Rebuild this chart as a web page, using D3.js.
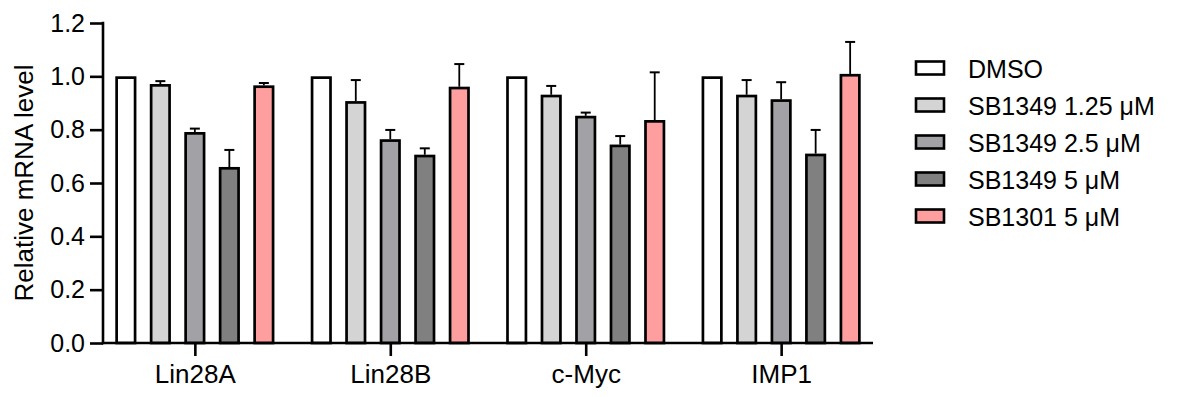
<!DOCTYPE html>
<html>
<head>
<meta charset="utf-8">
<script src="https://cdn.jsdelivr.net/npm/d3@7"></script>
<style>
  body { margin: 0; background: #fff; }
  svg { font-family: "Liberation Sans", Arial, sans-serif; }
</style>
</head>
<body>
<svg id="chart" width="1177" height="397"></svg>
<script>
// Data
var genes = ["Lin28A", "Lin28B", "c-Myc", "IMP1"];
var treatments = ["DMSO", "SB1349 1.25 \u03bcM", "SB1349 2.5 \u03bcM", "SB1349 5 \u03bcM", "SB1301 5 \u03bcM"];
var colors = ["#ffffff", "#d4d4d4", "#a2a2a6", "#808080", "#ff9e9e"];
// mean values, one array per treatment (in gene order)
var dmso   = [1.0, 1.0, 1.0, 1.0];
var sb125  = [0.971, 0.907, 0.931, 0.931];
var sb25   = [0.791, 0.764, 0.852, 0.914];
var sb5    = [0.660, 0.706, 0.744, 0.710];
var sb1301 = [0.966, 0.961, 0.836, 1.009];
// upper error (SD)
var dmsoErr   = [0, 0, 0, 0];
var sb125Err  = [0.011, 0.079, 0.033, 0.055];
var sb25Err   = [0.013, 0.035, 0.012, 0.064];
var sb5Err    = [0.064, 0.024, 0.032, 0.089];
var sb1301Err = [0.009, 0.085, 0.179, 0.120];
var yTicks = [0, 0.2, 0.4, 0.6, 0.8, 1.0, 1.2];

var means = [dmso, sb125, sb25, sb5, sb1301];
var errs = [dmsoErr, sb125Err, sb25Err, sb5Err, sb1301Err];

var svg = d3.select('#chart');

// plot area edges
var plotLeft = 103, plotRight = 873, plotTop = 23, plotBottom = 343;
var font = '"Liberation Sans", Arial, sans-serif';

// scales
var x0 = d3.scalePoint().domain(genes).range([plotLeft, plotRight]).padding(0.47);
var x1 = d3.scaleBand().domain(treatments).range([-86.25, 86.25]).paddingInner(0.39).paddingOuter(0.195);
var y = d3.scaleLinear().domain([0, 1.2]).range([plotBottom, plotTop]);

// flatten into rows
var rows = [];
genes.forEach(function(g, gi) {
    treatments.forEach(function(t, ti) {
        rows.push({ gene: g, t: t, ti: ti, v: means[ti][gi], e: errs[ti][gi] });
    });
});

// error bars (drawn first so bar outline sits on top)
var eb = svg.append('g');
rows.filter(function(d) { return d.e > 0; }).forEach(function(d) {
    var cx = x0(d.gene) + x1(d.t) + x1.bandwidth() / 2;
    eb.append('line')
        .attr('x1', cx).attr('x2', cx)
        .attr('y1', y(d.v)).attr('y2', y(d.v + d.e))
        .attr('stroke', '#000').attr('stroke-width', 1.8);
    eb.append('line')
        .attr('x1', cx - 5).attr('x2', cx + 5)
        .attr('y1', y(d.v + d.e)).attr('y2', y(d.v + d.e))
        .attr('stroke', '#000').attr('stroke-width', 2);
});

// bars
var bw = x1.bandwidth();
svg.append('g').selectAll('rect')
    .data(rows)
    .enter()
    .append('rect')
    .attr('x', function(d) { return x0(d.gene) + x1(d.t) + 1.3; })
    .attr('y', function(d) { return y(d.v) + 1.3; })
    .attr('width', bw - 2.6)
    .attr('height', function(d) { return plotBottom - y(d.v) - 1.3; })
    .attr('fill', function(d) { return colors[d.ti]; })
    .attr('stroke', '#000')
    .attr('stroke-width', 2.7);

// y axis
var yAxis = d3.axisLeft(y).tickValues(yTicks).tickFormat(d3.format('.1f')).tickSize(13).tickPadding(5);
var gy = svg.append('g').attr('transform', 'translate(' + plotLeft + ',0)').call(yAxis);
gy.select('.domain').attr('stroke-width', 2.6).attr('d', 'M0,' + (plotTop - 1.3) + 'V' + (plotBottom + 1.3));
gy.selectAll('.tick line').attr('stroke-width', 2.6);
gy.selectAll('.tick text').attr('font-size', 25).attr('fill', '#000').attr('font-family', font);

// x axis
var xAxis = d3.axisBottom(x0).tickSize(13).tickPadding(9);
var gx = svg.append('g').attr('transform', 'translate(0,' + plotBottom + ')').call(xAxis);
gx.select('.domain').attr('d', 'M' + (plotLeft - 1.3) + ',0H' + plotRight).attr('stroke-width', 2.6);
gx.selectAll('.tick line').attr('stroke-width', 2.6);
gx.selectAll('.tick text').attr('font-size', 26).attr('fill', '#000').attr('font-family', font);

// y label
svg.append('text')
    .attr('transform', 'translate(33,' + ((plotTop + plotBottom) / 2) + ') rotate(-90)')
    .attr('text-anchor', 'middle')
    .attr('font-size', 26)
    .text('Relative mRNA level');

// legend
var lg = svg.append('g').attr('transform', 'translate(916,68)');
treatments.forEach(function(t, i) {
    var row = lg.append('g').attr('transform', 'translate(0,' + (i * 37) + ')');
    row.append('rect')
        .attr('x', 0).attr('y', -6.5)
        .attr('width', 28).attr('height', 13)
        .attr('fill', colors[i]).attr('stroke', '#000').attr('stroke-width', 2.6);
    row.append('text')
        .attr('x', 52).attr('y', 9.5)
        .attr('font-size', 25)
        .text(t);
});
</script>
</body>
</html>
